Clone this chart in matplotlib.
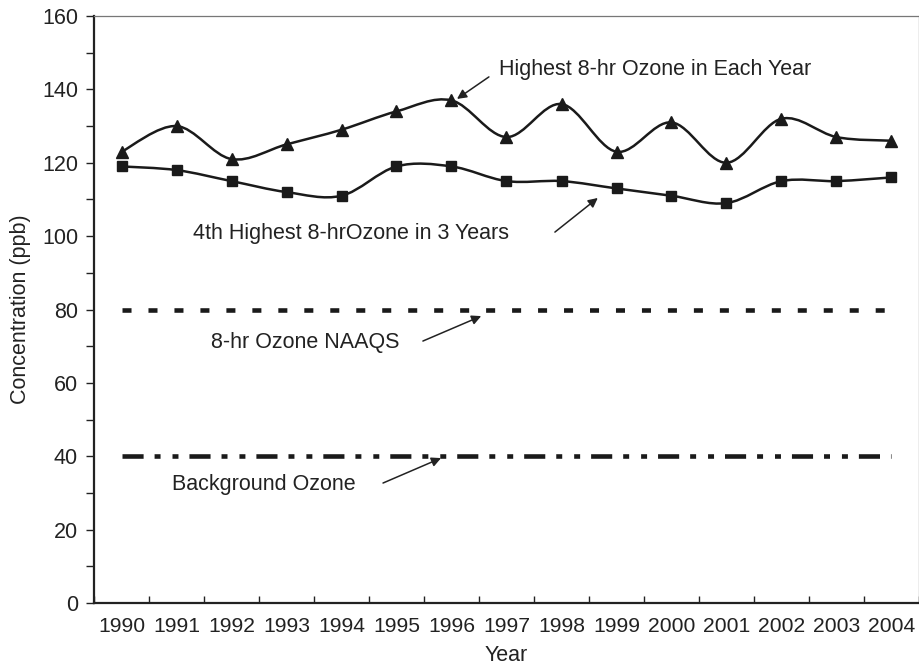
import matplotlib
matplotlib.use("Agg")
import matplotlib.pyplot as plt
import numpy as np
from matplotlib.path import Path
from matplotlib.patches import PathPatch
from matplotlib.ticker import MultipleLocator, FixedLocator, NullFormatter

plt.rcParams['font.family'] = ['Liberation Sans', 'DejaVu Sans']
plt.rcParams['lines.scale_dashes'] = False

years = ['1990', '1991', '1992', '1993', '1994', '1995', '1996', '1997',
         '1998', '1999', '2000', '2001', '2002', '2003', '2004']
highest_each_year = [123, 130, 121, 125, 129, 134, 137, 127, 136, 123, 131, 120, 132, 127, 126]
fourth_highest_3yr = [119, 118, 115, 112, 111, 119, 119, 115, 115, 113, 111, 109, 115, 115, 116]
naaqs = 80
background = 40

TXT = '#222222'
LINE = '#1a1a1a'
FS = 15.5

fig = plt.figure(figsize=(9.2, 6.71), dpi=100)
ax = fig.add_axes([94/920, 1-603/671, (919-94)/920, (603-16)/671])

x = np.arange(len(years))


def smooth_path(xs, ys):
    pts = np.column_stack([xs, ys]).astype(float)
    n = len(pts)
    verts = [pts[0]]
    codes = [Path.MOVETO]
    for i in range(n - 1):
        p0 = pts[i - 1] if i > 0 else pts[i]
        p1 = pts[i]
        p2 = pts[i + 1]
        p3 = pts[i + 2] if i + 2 < n else pts[i + 1]
        c1 = p1 + (p2 - p0) / 6.0
        c2 = p2 - (p3 - p1) / 6.0
        verts += [c1, c2, p2]
        codes += [Path.CURVE4] * 3
    return Path(verts, codes)


for series, mk, ms in [(highest_each_year, '^', 8.5), (fourth_highest_3yr, 's', 7.8)]:
    ax.add_patch(PathPatch(smooth_path(x, series), fill=False, lw=1.8,
                           edgecolor=LINE, zorder=3))
    ax.plot(x, series, linestyle='none', marker=mk, markersize=ms,
            color=LINE, markeredgecolor=LINE, zorder=4)

ax.plot([x[0], x[-1]], [naaqs, naaqs], color=LINE, lw=3.3,
        dashes=(6.5, 12.2), dash_capstyle='butt', zorder=2)
ax.plot([x[0], x[-1]], [background, background], color=LINE, lw=3.3,
        dashes=(15.2, 7.9, 4.3, 8.6, 4.3, 7.9), dash_capstyle='butt', zorder=2)

ax.set_xlim(-0.5, len(years) - 0.5)
ax.set_ylim(0, 160)

ax.xaxis.set_major_locator(FixedLocator(x))
ax.set_xticklabels(years)
ax.xaxis.set_minor_locator(FixedLocator(np.arange(-0.5, len(years), 1.0)))
ax.xaxis.set_minor_formatter(NullFormatter())
ax.tick_params(axis='x', which='major', length=0, pad=10, labelsize=15.2, labelcolor=TXT)
ax.tick_params(axis='x', which='minor', direction='in', length=5, width=1, color=TXT)

ax.yaxis.set_major_locator(MultipleLocator(20))
ax.yaxis.set_minor_locator(MultipleLocator(10))
ax.tick_params(axis='y', which='major', direction='out', length=6, width=1,
               color=TXT, pad=5.5, labelsize=FS, labelcolor=TXT)
ax.tick_params(axis='y', which='minor', direction='out', length=6, width=1, color=TXT)

for s in ['left', 'bottom']:
    ax.spines[s].set_color(TXT)
    ax.spines[s].set_linewidth(1.6)
for s in ['top', 'right']:
    ax.spines[s].set_color('#777777')
    ax.spines[s].set_linewidth(0.9)

ax.set_xlabel('Year', fontsize=FS, color=TXT, labelpad=6.5)
ax.set_ylabel('Concentration (ppb)', fontsize=FS, color=TXT, labelpad=8)

arrow = dict(arrowstyle='-|>', color=TXT, lw=1.1, mutation_scale=14, shrinkA=0, shrinkB=0)

ax.text(6.864, 145.3, 'Highest 8-hr Ozone in Each Year', fontsize=FS, color=TXT,
        ha='left', va='center')
ax.annotate('', xy=(6.10, 137.4), xytext=(6.68, 143.4), arrowprops=arrow)

ax.text(1.30, 100.8, '4th Highest 8-hrOzone in 3 Years', fontsize=FS, color=TXT,
        ha='left', va='center')
ax.annotate('', xy=(8.66, 110.4), xytext=(7.88, 101.1), arrowprops=arrow)

ax.text(1.627, 71.1, '8-hr Ozone NAAQS', fontsize=FS, color=TXT,
        ha='left', va='center')
ax.annotate('', xy=(6.54, 78.2), xytext=(5.48, 71.4), arrowprops=arrow)

ax.text(0.918, 32.2, 'Background Ozone', fontsize=FS, color=TXT,
        ha='left', va='center')
ax.annotate('', xy=(5.81, 39.5), xytext=(4.755, 32.7), arrowprops=arrow)

fig.savefig('out.png', dpi=100)
